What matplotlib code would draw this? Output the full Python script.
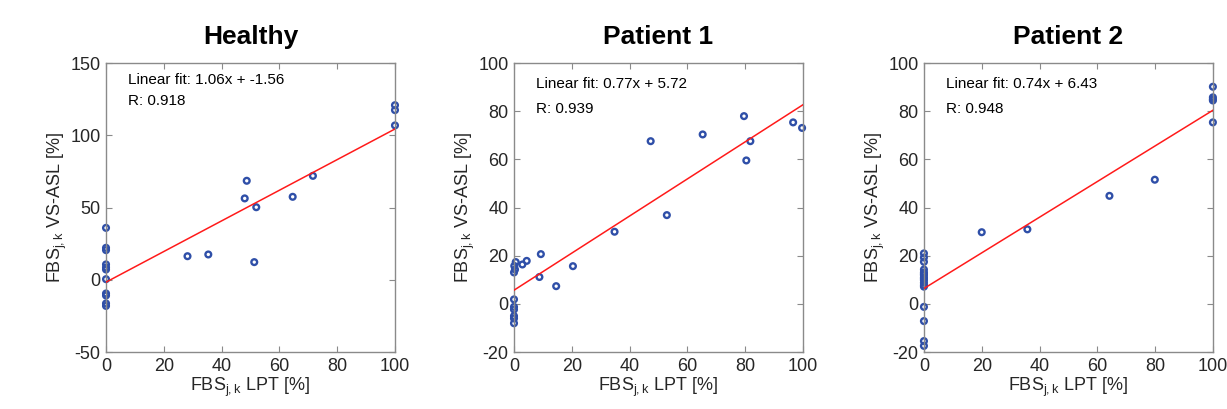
import matplotlib
matplotlib.use('Agg')
import matplotlib.pyplot as plt
import numpy as np

plt.rcParams['font.family'] = ['Liberation Sans', 'DejaVu Sans']
plt.rcParams['axes.unicode_minus'] = False

# Healthy
healthy_x = [0, 0, 0, 0, 0, 0, 0, 0, 0, 0, 0,
             28.2, 35.4, 48.0, 48.7, 52.0, 51.3, 64.6, 71.6, 100, 100, 100]
healthy_y = [36.0, 22.2, 20.6, 10.7, 8.6, 7.2, 0.5, -9.4, -10.8, -16.3, -18.0,
             16.4, 17.6, 56.4, 68.6, 50.3, 12.3, 57.5, 72.0, 120.9, 117.5, 106.9]

# Patient 1
p1_x = [47.3, 65.3, 79.6, 81.8, 80.4, 96.6, 99.7, 52.9, 34.8, 9.3, 20.4, 8.8, 14.6,
        4.4, 2.9, 0.6, 0.1, 0.35, 0, 0, 0, 0, 0, 0, 0]
p1_y = [67.6, 70.4, 78.0, 67.6, 59.6, 75.4, 73.1, 36.9, 30.0, 20.7, 15.7, 11.2, 7.4,
        17.9, 16.4, 17.4, 15.8, 14.3, 13.1, 1.9, -1.2, -2.3, -5.0, -6.0, -8.0]

# Patient 2
p2_x = [20.0, 35.8, 64.2, 79.9, 100, 100, 100, 100, 100,
        0, 0, 0, 0, 0, 0, 0, 0, 0, 0, 0, 0, 0, 0, 0, 0, 0]
p2_y = [29.8, 31.0, 44.9, 51.6, 90.2, 85.8, 85.0, 84.5, 75.4,
        21.0, 19.3, 17.5, 14.3, 13.1, 12.0, 11.0, 9.9, 8.8, 7.8, 7.2,
        10.5, 12.5, -1.2, -7.1, -15.4, -17.4]

titles = ['Healthy', 'Patient 1', 'Patient 2']
slopes = [1.06, 0.77, 0.74]
intercepts = [-1.56, 5.72, 6.43]
r_values = [0.918, 0.939, 0.948]
ylims = [(-50, 150), (-20, 100), (-20, 100)]
yticks = [[-50, 0, 50, 100, 150], [-20, 0, 20, 40, 60, 80, 100], [-20, 0, 20, 40, 60, 80, 100]]
xticks = [0, 20, 40, 60, 80, 100]
data = [(healthy_x, healthy_y), (p1_x, p1_y), (p2_x, p2_y)]

lefts = [0.0864, 0.4189, 0.753]
text_y = [(0.94, 0.868), (0.927, 0.843), (0.927, 0.843)]

fig = plt.figure(figsize=(12.27, 4.09), dpi=100)
spine_col = '#8a8a8a'
text_col = '#262626'

for i in range(3):
    ax = fig.add_axes([lefts[i], 0.139, 0.2355, 0.7066])
    xs, ys = data[i]
    ax.scatter(xs, ys, s=17, facecolors='none', edgecolors='#2f4fa8', linewidths=1.7, zorder=2,
               clip_on=False)
    xl = np.array([0, 100])
    ax.plot(xl, slopes[i] * xl + intercepts[i], color='#ff1a1a', linewidth=1.1, zorder=3)

    ax.set_xlim(0, 100)
    ax.set_ylim(*ylims[i])
    ax.set_xticks(xticks)
    ax.set_yticks(yticks[i])
    ax.tick_params(direction='in', length=4, width=0.8, top=True, right=True,
                   labelsize=13, colors=spine_col, labelcolor=text_col, pad=4)
    for sp in ax.spines.values():
        sp.set_color(spine_col)
        sp.set_linewidth(1.0)

    ax.set_xlabel('FBS$_{\\mathregular{j,k}}$ LPT [%]', fontsize=13, color=text_col, labelpad=1)
    ax.set_ylabel('FBS$_{\\mathregular{j,k}}$ VS-ASL [%]', fontsize=13, color=text_col, labelpad=1)
    ax.set_title(titles[i], fontsize=19, fontweight='bold', pad=14)

    ax.text(0.076, text_y[i][0], f'Linear fit: {slopes[i]:.2f}x + {intercepts[i]:.2f}',
            transform=ax.transAxes, fontsize=11, color='black', va='center')
    ax.text(0.076, text_y[i][1], f'R: {r_values[i]:.3f}',
            transform=ax.transAxes, fontsize=11, color='black', va='center')

plt.savefig('out.png', dpi=100)
